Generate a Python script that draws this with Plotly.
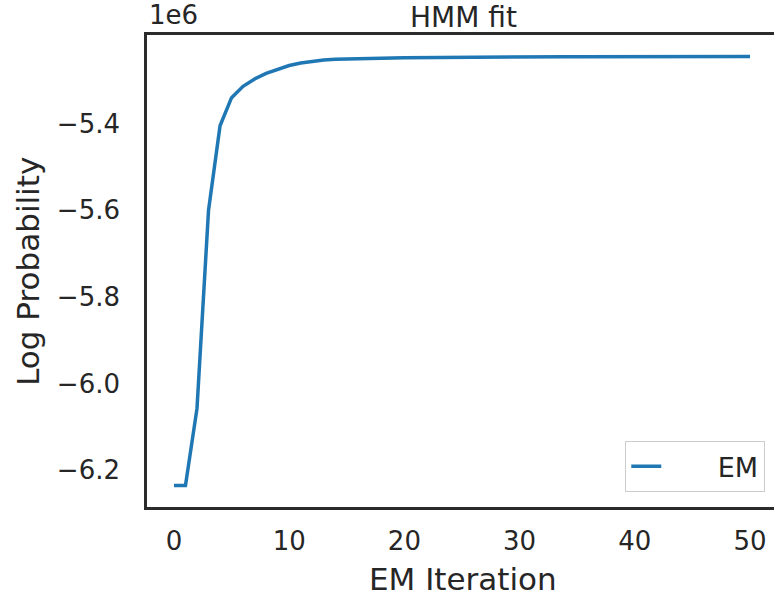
import plotly.graph_objects as go

# EM training curve of the HMM: log probability (in units of 1e6) per iteration
iterations = list(range(51))
log_prob_1e6 = [
    -6.2350, -6.2350, -6.0570, -5.6000, -5.4050, -5.3400, -5.3140, -5.2970,
    -5.2840, -5.2740, -5.2660, -5.2600, -5.2560, -5.2530, -5.2515, -5.2505,
    -5.2498, -5.2492, -5.2487, -5.2483, -5.2480, -5.2477, -5.2474, -5.2472,
    -5.2470, -5.2468, -5.2466, -5.2465, -5.2463, -5.2462, -5.2461, -5.2460,
    -5.2459, -5.2458, -5.2457, -5.2456, -5.2456, -5.2455, -5.2455, -5.2454,
    -5.2454, -5.2453, -5.2453, -5.2453, -5.2452, -5.2452, -5.2452, -5.2451,
    -5.2451, -5.2451, -5.2450,
]

x_ticks = [0, 10, 20, 30, 40, 50]
y_ticks = [-6.2, -6.0, -5.8, -5.6, -5.4]
y_tick_text = ["\u22126.2", "\u22126.0", "\u22125.8", "\u22125.6", "\u22125.4"]

TEXT = "#262626"
SPINE = "#2b2b2b"
FONT = "DejaVu Sans"

fig = go.Figure()
fig.add_trace(go.Scatter(
    x=iterations, y=log_prob_1e6, mode="lines",
    name="\u00a0" * 6 + "EM",
    line=dict(color="#1f77b4", width=3.5),
))

fig.update_layout(
    width=774, height=600,
    margin=dict(l=147, r=0, t=35, b=93),
    paper_bgcolor="white", plot_bgcolor="white",
    font=dict(family=FONT, color=TEXT, size=26),
    showlegend=True,
    legend=dict(
        x=0.9856, y=0.032, xanchor="right", yanchor="bottom",
        bordercolor="#cccccc", borderwidth=1.3, bgcolor="white",
        font=dict(size=27, color=TEXT),
        entrywidth=116, entrywidthmode="pixels",
    ),
    xaxis=dict(
        range=[-2.34, 52.08], tickvals=x_ticks,
        showgrid=False, zeroline=False,
        showline=True, mirror=True, linecolor=SPINE, linewidth=2.6,
        ticks="outside", ticklen=9, tickcolor="rgba(0,0,0,0)",
        tickfont=dict(size=26, color=TEXT),
    ),
    yaxis=dict(
        range=[-6.2845, -5.1955], tickvals=y_ticks, ticktext=y_tick_text,
        showgrid=False, zeroline=False,
        showline=True, mirror=False, linecolor=SPINE, linewidth=2.6,
        ticks="outside", ticklen=19, tickcolor="rgba(0,0,0,0)",
        tickfont=dict(size=26, color=TEXT),
    ),
    annotations=[
        dict(text="HMM fit", xref="paper", yref="paper", x=0.504, y=1.038,
             xanchor="center", yanchor="middle", showarrow=False,
             font=dict(size=28, color=TEXT)),
        dict(text="1e6", xref="paper", yref="paper", x=0.0, y=1.043,
             xanchor="left", yanchor="middle", showarrow=False,
             font=dict(size=26, color=TEXT)),
        dict(text="EM Iteration", xref="paper", yref="paper", x=0.504, y=-0.153,
             xanchor="center", yanchor="middle", showarrow=False,
             font=dict(size=31, color=TEXT)),
        dict(text="Log Probability", xref="paper", yref="paper", x=-0.190, y=0.5,
             xanchor="center", yanchor="middle", showarrow=False, textangle=-90,
             font=dict(size=31, color=TEXT)),
    ],
)

fig.write_html("out.html")
